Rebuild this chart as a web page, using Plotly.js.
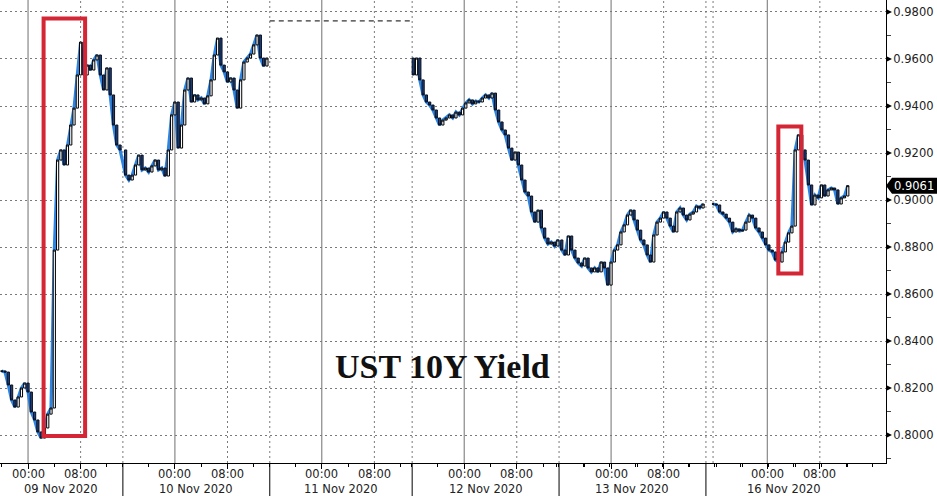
<!DOCTYPE html>
<html><head><meta charset="utf-8">
<script src="https://cdn.plot.ly/plotly-3.0.1.min.js"></script>
<style>html,body{margin:0;padding:0;background:#fff;overflow:hidden}#chart{width:937px;height:496px}</style>
</head><body><div id="chart"></div>
<script>
// ---------- data ----------
const chartTitle = 'UST 10Y Yield';
const sessionLabels = ['09 Nov 2020','10 Nov 2020','11 Nov 2020','12 Nov 2020','13 Nov 2020','16 Nov 2020'];
const tickDays = ['2020-11-09','2020-11-10','2020-11-11','2020-11-12','2020-11-13','2020-11-16'];
const tickHours = ['00:00','08:00'];
const breakStarts = ['2020-11-09 14:26','2020-11-10 14:26','2020-11-11 13:45','2020-11-12 14:26','2020-11-13 14:26'];
const breakEnds   = ['2020-11-09 16:05','2020-11-10 16:05','2020-11-11 16:05','2020-11-12 16:05','2020-11-15 14:40'];
const viewStart = '2020-11-08 19:44';
const viewEnd = '2020-11-16 18:04';
const lastSessionClose = '2020-11-16 14:26';
const barMinutes = 30;
const runStarts = ['2020-11-08 20:00','2020-11-09 16:30','2020-11-11 16:15','2020-11-12 16:30','2020-11-15 15:45'];
const runGapBefore = [false, false, true, false, true];

const yields09 = [0.8272,0.8268,0.8213,0.8149,0.8119,0.8162,0.8200,0.8221,0.8183,0.8098,
  0.8064,0.8013,0.7987,0.8030,0.8089,0.8115,0.8787,0.9170,0.9213,0.9149,
  0.9234,0.9319,0.9391,0.9532,0.9672,0.9532,0.9574,0.9553,0.9596,0.9617,
  0.9532,0.9468,0.9562,0.9447,0.9319,0.9234,0.9213];
const yields10 = [0.9106,0.9085,0.9106,0.9149,0.9191,0.9128,0.9136,0.9119,0.9145,0.9170,
  0.9128,0.9136,0.9102,0.9213,0.9362,0.9417,0.9221,0.9319,0.9468,0.9519,
  0.9417,0.9447,0.9426,0.9434,0.9409,0.9443,0.9511,0.9617,0.9689,0.9574,
  0.9545,0.9502,0.9519,0.9468,0.9391,0.9511,0.9587,0.9604,0.9621,0.9660,
  0.9702,0.9604,0.9570,0.9604];
const yields12 = [0.9532,0.9604,0.9511,0.9447,0.9417,0.9404,0.9383,0.9349,0.9319,0.9340,
  0.9349,0.9362,0.9349,0.9374,0.9362,0.9391,0.9413,0.9426,0.9409,0.9421,
  0.9417,0.9434,0.9447,0.9434,0.9455,0.9383,0.9332,0.9298,0.9277,0.9221,
  0.9170,0.9204,0.9149,0.9085,0.9034,0.9017,0.8949,0.8906,0.8957,0.8881,
  0.8838,0.8813,0.8821,0.8804,0.8830];
const yields13 = [0.8787,0.8766,0.8847,0.8787,0.8753,0.8732,0.8719,0.8753,0.8711,0.8694,
  0.8711,0.8694,0.8736,0.8711,0.8638,0.8736,0.8787,0.8809,0.8864,0.8894,
  0.8936,0.8957,0.8915,0.8872,0.8830,0.8809,0.8766,0.8736,0.8851,0.8906,
  0.8923,0.8949,0.8923,0.8889,0.8864,0.8949,0.8966,0.8936,0.8915,0.8940,
  0.8949,0.8974,0.8966,0.8983];
const yields16 = [0.8983,0.8979,0.8949,0.8940,0.8923,0.8906,0.8864,0.8877,0.8868,0.8872,
  0.8906,0.8936,0.8923,0.8881,0.8864,0.8838,0.8809,0.8787,0.8779,0.8745,
  0.8736,0.8779,0.8821,0.8860,0.8889,0.9213,0.9277,0.9213,0.9170,0.9064,
  0.8979,0.9021,0.9009,0.9064,0.9017,0.9043,0.9051,0.9043,0.8983,0.9009,
  0.9017,0.9061];
const runs = [yields09, yields10, yields12, yields13, yields16];

const yTicks = [0.80,0.82,0.84,0.86,0.88,0.90,0.92,0.94,0.96,0.98];
const yRange = [0.7881, 0.9851];
const holidayLevel = 0.9762;
const highlightX0 = ['2020-11-09 02:22','2020-11-16 01:41'];
const highlightX1 = ['2020-11-09 08:41','2020-11-16 05:11'];
const highlightLow = [0.7996, 0.8687];
const highlightHigh = [0.9772, 0.9313];
const lastValue = 0.9061;

// ---------- helpers ----------
function toMs(s){const [d,t]=s.split(' ');const [Y,M,D]=d.split('-').map(Number);const [h,m]=(t||'00:00').split(':').map(Number);return Date.UTC(Y,M-1,D,h,m);}
function fmt(ms){const d=new Date(ms);const p=n=>String(n).padStart(2,'0');return d.getUTCFullYear()+'-'+p(d.getUTCMonth()+1)+'-'+p(d.getUTCDate())+' '+p(d.getUTCHours())+':'+p(d.getUTCMinutes())+':00';}

const W = 937, H = 496, M = {l:0, r:51, t:0, b:33};
const plotW = W - M.l - M.r, plotH = H - M.t - M.b;
const dy = (yRange[1]-yRange[0]) / plotH;
const dx = 1 / plotW;

// ---------- build series ----------
const lineX=[], lineY=[], cx=[], co=[], ch=[], cl=[], cc=[];
let prev = null;
runs.forEach((vals, r) => {
  const t0 = toMs(runStarts[r]);
  if (runGapBefore[r]) { lineX.push(fmt(t0 - barMinutes*60000)); lineY.push(null); }
  vals.forEach((v, i) => {
    const x = fmt(t0 + i*barMinutes*60000);
    lineX.push(x); lineY.push(v);
    const o = prev === null ? v : prev;
    cx.push(x); co.push(o); cc.push(v); ch.push(Math.max(o,v)); cl.push(Math.min(o,v));
    prev = v;
  });
});

const traces = [
  {type:'scatter', mode:'lines', x:lineX, y:lineY, connectgaps:false, hoverinfo:'skip',
   line:{color:'#2f84e0', width:3.2}},
  {type:'scatter', mode:'lines', x:[breakEnds[1], fmt(toMs(breakStarts[2]) - 60000)], y:[holidayLevel, holidayLevel],
   hoverinfo:'skip', line:{color:'#000', width:1, dash:'5px,4px'}},
  {type:'candlestick', xaxis:'x2', yaxis:'y', x:cx, open:co, high:ch, low:cl, close:cc, whiskerwidth:0, hoverinfo:'skip',
   increasing:{line:{color:'#000', width:1}, fillcolor:'#ffffff'},
   decreasing:{line:{color:'#0a0f1e', width:1}, fillcolor:'#1d3f7a'}}
];

// ---------- shapes ----------
const shapes = [];
const dotted = {color:'#7a7a7a', width:1, dash:'2px,3px'};
tickDays.forEach(d => {
  shapes.push({type:'line', xref:'x', yref:'paper', x0:d+' 00:00', x1:d+' 00:00', y0:0, y1:1, line:{color:'#707070', width:1}, layer:'below'});
  shapes.push({type:'line', xref:'x', yref:'paper', x0:d+' 08:00', x1:d+' 08:00', y0:0, y1:1, line:dotted, layer:'below'});
});
breakEnds.concat([runStarts[4]]).forEach(t => {
  shapes.push({type:'line', xref:'x', yref:'paper', x0:t, x1:t, y0:0, y1:1, line:dotted, layer:'below'});
});
breakEnds.forEach(t => {
  shapes.push({type:'line', xref:'x', yref:'paper', x0:t, x1:t, y0:-M.b/plotH, y1:0, line:{color:'#000', width:1}});
});
highlightX0.forEach((x0, i) => {
  shapes.push({type:'rect', xref:'x', yref:'y', x0:x0, x1:highlightX1[i], y0:highlightLow[i], y1:highlightHigh[i],
    line:{color:'rgb(212,38,52)', width:4}, fillcolor:'rgba(0,0,0,0)'});
});
yTicks.forEach(t => {
  shapes.push({type:'path', xref:'paper', yref:'y', path:`M 1,${t+3*dy} L ${1+6*dx},${t} L 1,${t-3*dy} Z`,
    fillcolor:'#000', line:{width:0}});
});
shapes.push({type:'path', xref:'paper', yref:'y',
  path:`M 1,${lastValue} L ${1+6*dx},${lastValue+8*dy} L ${1+60*dx},${lastValue+8*dy} L ${1+60*dx},${lastValue-8*dy} L ${1+6*dx},${lastValue-8*dy} Z`,
  fillcolor:'#000', line:{width:0}});

// ---------- annotations ----------
const labelFont = {family:'DejaVu Sans', size:11.5, color:'#222'};
const opens = [viewStart].concat(breakEnds);
const closes = breakStarts.concat([lastSessionClose]);
const annotations = sessionLabels.map((lab, i) => ({
  xref:'x', yref:'paper', x: fmt((toMs(opens[i]) + toMs(closes[i]))/2), y: -26/plotH,
  text: lab, showarrow:false, font: labelFont, xanchor:'center', yanchor:'middle'
}));
tickDays.forEach(d => tickHours.forEach(h => {
  annotations.push({xref:'x', yref:'paper', x:d+' '+h, y:-10.5/plotH, text:h, showarrow:false,
    font: labelFont, xanchor:'center', yanchor:'middle'});
}));
annotations.push({xref:'paper', yref:'paper', x:442/plotW, y:1-366.5/plotH, text:chartTitle, showarrow:false,
  xanchor:'center', yanchor:'middle', font:{family:'Liberation Serif', size:34, color:'#111', weight:'bold'}});
annotations.push({xref:'paper', yref:'y', x:1+6*dx, y:lastValue, text:lastValue.toFixed(4), showarrow:false,
  xanchor:'left', yanchor:'middle', font:{family:'DejaVu Sans', size:11.5, color:'#fff'}});

const tickvals = [];
tickDays.forEach(d => tickHours.forEach(h => tickvals.push(d+' '+h)));
const rangebreaks = () => breakStarts.map((s,i)=>({bounds:[s, breakEnds[i]]}));

const layout = {
  width:W, height:H, margin:M, paper_bgcolor:'#fff', plot_bgcolor:'#fff', showlegend:false, boxgap:0.05,
  xaxis:{type:'date', range:[viewStart, viewEnd], rangebreaks:rangebreaks(),
    tickmode:'array', tickvals, showticklabels:false, ticks:'outside', ticklen:5, tickcolor:'#000', tickwidth:1,
    showline:true, linecolor:'#000', linewidth:1, showgrid:false, zeroline:false,
    minor:{tickmode:'linear', tick0:'2020-11-09 00:00', dtick:4*3600000, ticks:'outside', ticklen:3, tickcolor:'#000', showgrid:false},
    rangeslider:{visible:false}, fixedrange:true},
  xaxis2:{type:'date', overlaying:'x', anchor:'y', side:'bottom', range:[viewStart, viewEnd], rangebreaks:rangebreaks(),
    showline:false, ticks:'', showgrid:false, zeroline:false, showticklabels:false, rangeslider:{visible:false}, fixedrange:true},
  yaxis:{side:'right', range:yRange, tickmode:'array', tickvals:yTicks, ticktext:yTicks.map(v=>v.toFixed(4)),
    ticks:'outside', ticklen:4, tickcolor:'rgba(0,0,0,0)', showline:true, linecolor:'#000', linewidth:1,
    showgrid:true, gridcolor:'#7a7a7a', griddash:'2px,3px', gridwidth:1, zeroline:false, tickfont:labelFont,
    minor:{tickmode:'linear', tick0:0.79, dtick:0.02, ticks:'outside', ticklen:4, tickcolor:'#444', showgrid:false},
    fixedrange:true},
  shapes, annotations
};
Plotly.newPlot('chart', traces, layout, {displayModeBar:false, staticPlot:true});
</script></body></html>
